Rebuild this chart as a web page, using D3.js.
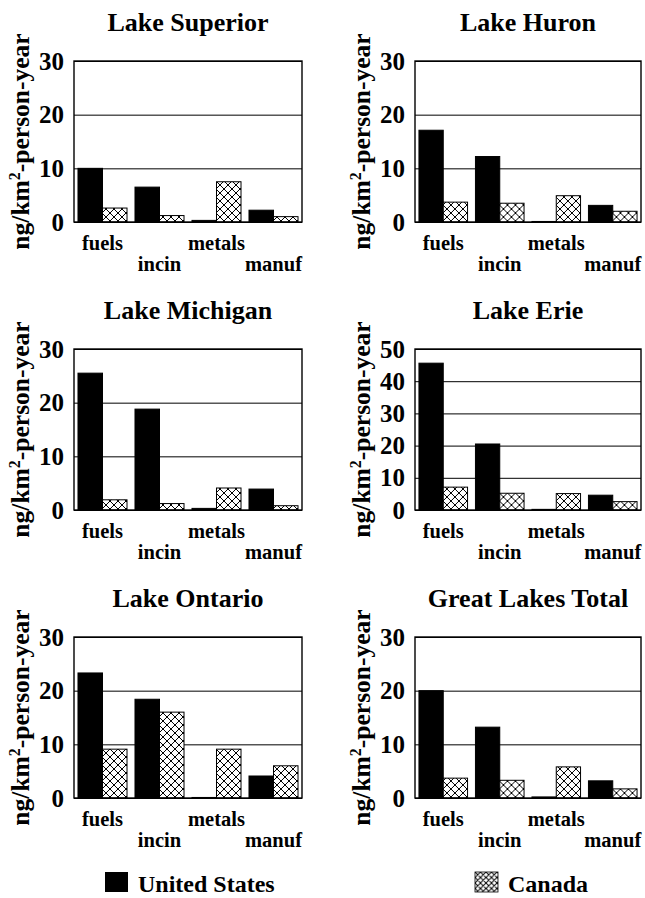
<!DOCTYPE html>
<html>
<head>
<meta charset="utf-8">
<script src="https://cdn.jsdelivr.net/npm/d3@7"></script>
<style>
    body { margin: 0; background: #fff; }
    svg { display: block; }
    text { font-family: 'Liberation Serif', 'Times New Roman', serif; font-weight: bold; fill: #000; }
</style>
</head>
<body>
<svg width="645" height="898"></svg>
<script>
const categories = ['fuels', 'incin', 'metals', 'manuf'];
const lakes = ['Lake Superior', 'Lake Huron', 'Lake Michigan', 'Lake Erie', 'Lake Ontario', 'Great Lakes Total'];
const yMax = [30, 30, 30, 50, 30, 30];
// ng/km2-person-year
const unitedStates = [
    [10.0, 6.5, 0.3, 2.2],
    [17.1, 12.2, 0.1, 3.1],
    [25.5, 18.8, 0.3, 3.9],
    [45.6, 20.5, 0.2, 4.6],
    [23.3, 18.4, 0.1, 4.1],
    [20.0, 13.2, 0.2, 3.2],
];
const canada = [
    [2.6, 1.2, 7.5, 1.0],
    [3.7, 3.5, 4.9, 2.0],
    [1.9, 1.2, 4.1, 0.8],
    [7.1, 5.2, 5.1, 2.6],
    [9.1, 16.0, 9.1, 6.0],
    [3.7, 3.3, 5.8, 1.7],
];
const seriesNames = ['United States', 'Canada'];

const svg = d3.select('svg');
const defs = svg.append('defs');

// *** cross hatch for Canada ***
const hatch = (id, size) => {
    const p = defs.append('pattern')
        .attr('id', id)
        .attr('patternUnits', 'userSpaceOnUse')
        .attr('width', size)
        .attr('height', size);
    p.append('rect').attr('width', size).attr('height', size).attr('fill', '#fff');
    p.append('path')
        .attr('d', `M0,0L${size},${size}M${size},0L0,${size}M-1,${size - 1}L1,${size + 1}M${size - 1},-1L${size + 1},1`)
        .attr('stroke', '#000')
        .attr('stroke-width', 1)
        .attr('fill', 'none');
};
hatch('hatch', 8);
hatch('hatchSmall', 5.5);

const plotW = [228, 226];
const plotH = 161;
const colLeft = [74, 415];
const rowTop = [61, 349, 637];

lakes.forEach((lake, i) => {
    const col = i % 2;
    const row = Math.floor(i / 2);
    const w = plotW[col];
    const g = svg.append('g')
        .attr('transform', `translate(${colLeft[col]},${rowTop[row]})`);

    const x = d3.scaleBand()
        .domain(categories)
        .range([0, w])
        .paddingInner(0.14)
        .paddingOuter(0.07);
    const xs = d3.scaleBand()
        .domain(seriesNames)
        .range([0, x.bandwidth()]);
    const y = d3.scaleLinear()
        .domain([0, yMax[i]])
        .range([plotH, 0]);

    // gridlines
    g.append('g')
        .call(d3.axisLeft(y).ticks(yMax[i] / 10).tickSize(-w).tickFormat(''))
        .call(a => a.select('.domain').remove())
        .selectAll('line')
        .attr('stroke', '#000')
        .attr('stroke-width', 1);

    // tick labels
    g.append('g')
        .call(d3.axisLeft(y).ticks(yMax[i] / 10).tickSize(0).tickPadding(10))
        .call(a => a.select('.domain').remove())
        .selectAll('text')
        .style('font-size', '25px')
        .style('font-family', "'Liberation Serif', serif")
        .style('font-weight', 'bold');

    const rows = categories.map((c, j) => ({ cat: c, values: [unitedStates[i][j], canada[i][j]] }));
    const groups = g.selectAll('.grp')
        .data(rows)
        .enter()
        .append('g')
        .attr('transform', d => `translate(${x(d.cat)},0)`);
    groups.selectAll('rect')
        .data(d => d.values.map((v, k) => ({ key: seriesNames[k], value: v })))
        .enter()
        .append('rect')
        .attr('x', d => xs(d.key))
        .attr('y', d => y(d.value))
        .attr('width', xs.bandwidth())
        .attr('height', d => plotH - y(d.value))
        .attr('fill', d => d.key === 'Canada' ? 'url(#hatch)' : '#000')
        .attr('stroke', '#000')
        .attr('stroke-width', 1);

    // frame
    g.append('rect')
        .attr('width', w)
        .attr('height', plotH)
        .attr('fill', 'none')
        .attr('stroke', '#000')
        .attr('stroke-width', 1.4);

    // category labels, staggered
    g.selectAll('.cat')
        .data(categories)
        .enter()
        .append('text')
        .attr('x', d => x(d) + x.bandwidth() / 2)
        .attr('y', (d, j) => plotH + (j % 2 ? 49 : 28))
        .attr('text-anchor', 'middle')
        .style('font-size', '20.5px')
        .text(d => d);

    g.append('text')
        .attr('x', w / 2)
        .attr('y', -30)
        .attr('text-anchor', 'middle')
        .style('font-size', '26px')
        .text(lake);

    g.append('text')
        .attr('transform', `translate(-45,${plotH / 2}) rotate(-90)`)
        .attr('text-anchor', 'middle')
        .style('font-size', '25.5px')
        .text('ng/km')
        .append('tspan')
        .attr('dy', -9)
        .style('font-size', '16px')
        .text('2')
        .select(function() { return this.parentNode; })
        .append('tspan')
        .attr('dy', 9)
        .text('-person-year');
});

// *** legend ***
const legend = [
    { name: 'United States', fill: '#000', x: 105 },
    { name: 'Canada', fill: 'url(#hatchSmall)', x: 475 },
];
const lg = svg.selectAll('.legend')
    .data(legend)
    .enter()
    .append('g')
    .attr('transform', d => `translate(${d.x},872)`);
lg.append('rect')
    .attr('width', 23)
    .attr('height', 20)
    .attr('fill', d => d.fill)
    .attr('stroke', d => d.fill === '#000' ? 'none' : '#000')
    .attr('stroke-width', 0.8);
lg.append('text')
    .attr('x', 33)
    .attr('y', 20)
    .style('font-size', '24px')
    .text(d => d.name);
</script>
</body>
</html>
